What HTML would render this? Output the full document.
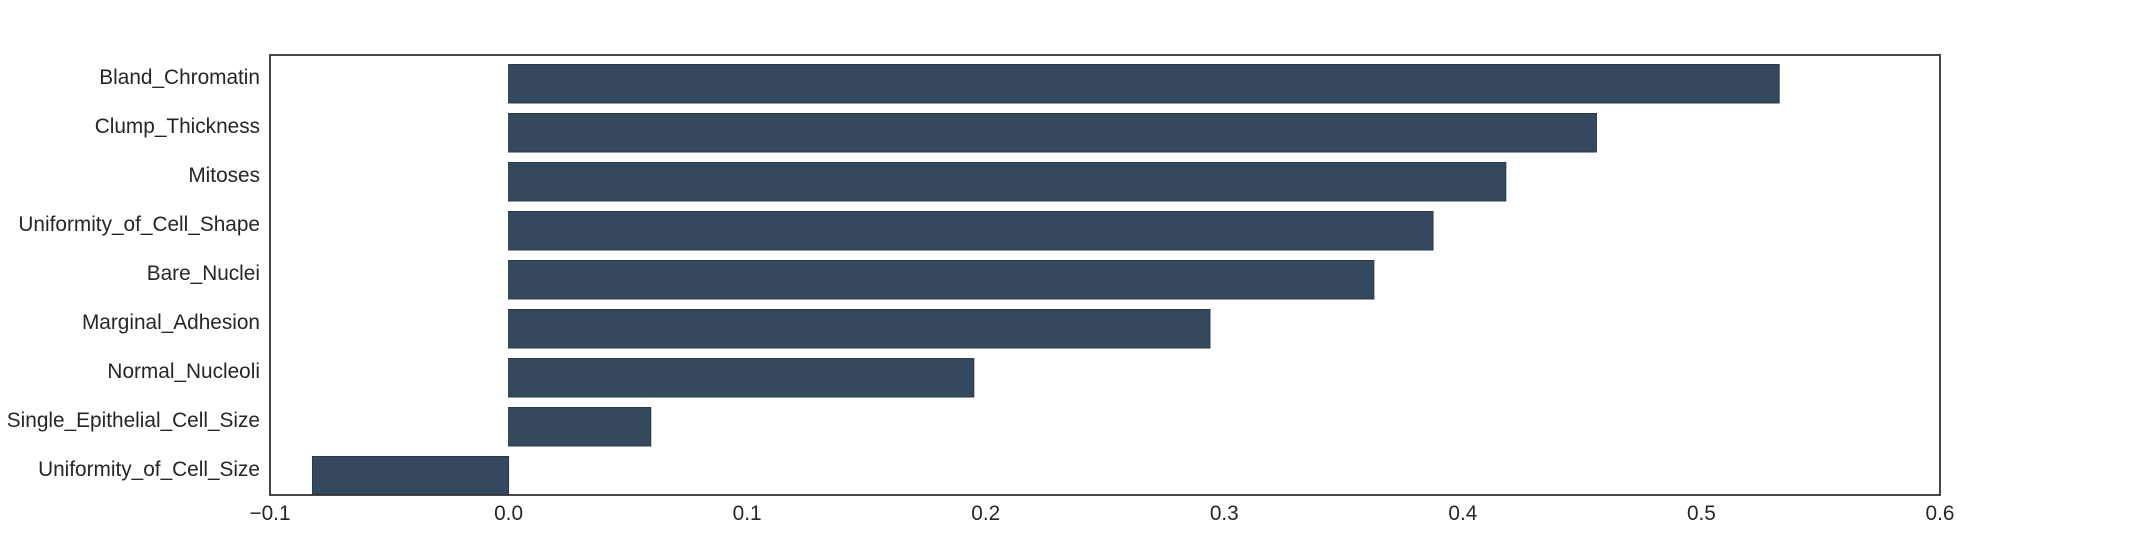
<!DOCTYPE html>
<html><head><meta charset="utf-8"><style>
html,body{margin:0;padding:0;background:#fff;}
svg{display:block;font-family:"Liberation Sans",sans-serif;}
</style></head><body>
<svg id="chart" width="2156" height="550" viewBox="0 0 2156 550"></svg>
<script>
const categories=["Bland_Chromatin","Clump_Thickness","Mitoses","Uniformity_of_Cell_Shape","Bare_Nuclei","Marginal_Adhesion","Normal_Nucleoli","Single_Epithelial_Cell_Size","Uniformity_of_Cell_Size"];
const values=[0.5326,0.456,0.418,0.3875,0.3627,0.294,0.195,0.0596,-0.0822];
const tickValues=[-0.1,0,0.1,0.2,0.3,0.4,0.5,0.6];
const tickLabels=["\u22120.1","0.0","0.1","0.2","0.3","0.4","0.5","0.6"];
const NS="http://www.w3.org/2000/svg";
const svg=document.getElementById('chart');
const L=270,R=1940,T=55,B=495,xmin=-0.1,xmax=0.6;
const band=49,barH=38.5;
function xs(v){return L+(v-xmin)/(xmax-xmin)*(R-L);}
function yc(i){return B-barH/2-(categories.length-1-i)*band;}
function mk(tag,attrs){const e=document.createElementNS(NS,tag);for(const k in attrs)e.setAttribute(k,attrs[k]);svg.appendChild(e);return e;}
categories.forEach((c,i)=>{
  const v=values[i];
  const x0=Math.min(xs(0),xs(v)),w=Math.abs(xs(v)-xs(0));
  const r=mk('rect',{x:x0,y:yc(i)-barH/2,width:w,height:barH,fill:'#34495e',stroke:'#2a3a4a','stroke-width':1});
  
  
  const t=mk('text',{x:260,y:yc(i)-5.5,'text-anchor':'end','dominant-baseline':'middle','font-size':20.8,fill:'#262626'});
  t.textContent=c;
  
  
});
tickValues.forEach((v,i)=>{
  const t=mk('text',{x:xs(v),y:520,'text-anchor':'middle','font-size':20.8,fill:'#262626'});
  t.textContent=tickLabels[i];
  
  
});
const f=mk('rect',{x:L,y:T,width:R-L,height:B-T,fill:'none',stroke:'#333','stroke-width':1.8});


</script>
</body></html>
